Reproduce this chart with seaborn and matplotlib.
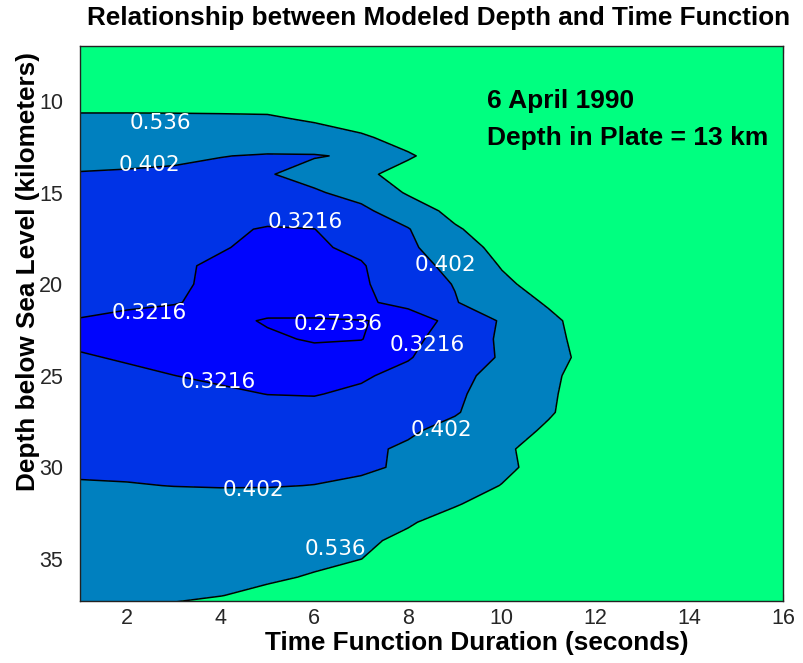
import numpy as np
import matplotlib
matplotlib.use("Agg")
import matplotlib.pyplot as plt
import seaborn as sns

# ---- data -------------------------------------------------------------
duration_s = list(range(1, 17))          # time function duration (s)
depth_km = list(range(7, 39))            # depth below sea level (km)
# modeled misfit (x1000), rows = depth, columns = duration
misfit_milli = [
    [816, 818, 820, 825, 831, 841, 870, 909, 947, 986, 1034, 1089, 1146, 1202, 1260, 1322],
    [736, 738, 740, 745, 751, 765, 800, 838, 877, 921, 976, 1032, 1089, 1147, 1210, 1276],
    [656, 658, 660, 665, 671, 691, 730, 768, 809, 862, 919, 976, 1035, 1098, 1166, 1236],
    [576, 578, 580, 586, 592, 621, 660, 698, 749, 806, 863, 922, 987, 1057, 1129, 1203],
    [515, 514, 514, 514, 516, 551, 589, 636, 693, 750, 810, 878, 951, 1025, 1102, 1179],
    [473, 469, 465, 458, 452, 470, 519, 580, 637, 699, 772, 849, 927, 1005, 1084, 1164],
    [431, 425, 418, 404, 396, 396, 415, 523, 598, 678, 758, 838, 918, 998, 1078, 1158],
    [397, 393, 388, 382, 395, 439, 511, 579, 637, 699, 772, 849, 927, 994, 1064, 1136],
    [382, 376, 369, 365, 372, 390, 440, 549, 617, 683, 750, 816, 885, 958, 1033, 1108],
    [370, 363, 353, 346, 342, 356, 378, 468, 572, 639, 706, 780, 855, 930, 1005, 1079],
    [361, 354, 343, 330, 318, 321, 351, 396, 522, 602, 678, 752, 826, 901, 975, 1050],
    [352, 345, 336, 324, 313, 314, 333, 380, 476, 574, 648, 722, 797, 872, 947, 1013],
    [347, 338, 327, 316, 307, 308, 317, 361, 431, 544, 619, 695, 769, 837, 902, 972],
    [340, 337, 328, 313, 300, 301, 314, 354, 406, 510, 591, 662, 725, 794, 867, 944],
    [330, 327, 324, 311, 293, 292, 309, 344, 396, 473, 549, 615, 691, 768, 846, 924],
    [320, 314, 305, 284, 270, 270, 272, 280, 346, 409, 511, 595, 675, 754, 834, 913],
    [314, 307, 297, 289, 279, 270, 272, 305, 352, 413, 504, 587, 667, 746, 826, 905],
    [325, 318, 309, 301, 292, 286, 296, 317, 361, 409, 496, 579, 659, 739, 819, 898],
    [335, 329, 322, 314, 306, 303, 314, 340, 376, 433, 513, 594, 673, 751, 827, 905],
    [345, 340, 334, 329, 321, 319, 332, 356, 387, 445, 520, 599, 679, 758, 838, 918],
    [356, 351, 347, 341, 339, 341, 354, 372, 395, 454, 525, 603, 683, 763, 843, 923],
    [368, 364, 360, 355, 354, 360, 373, 391, 428, 486, 553, 627, 700, 775, 852, 931],
    [380, 377, 373, 369, 368, 372, 387, 413, 461, 516, 584, 658, 732, 805, 879, 953],
    [392, 390, 387, 384, 383, 386, 392, 411, 463, 512, 578, 657, 737, 816, 896, 976],
    [407, 405, 401, 399, 399, 403, 414, 447, 487, 539, 605, 672, 746, 823, 902, 981],
    [426, 425, 424, 424, 428, 440, 459, 489, 527, 585, 651, 716, 782, 851, 924, 999],
    [445, 445, 445, 448, 455, 470, 492, 525, 580, 637, 696, 762, 828, 894, 960, 1030],
    [464, 466, 466, 470, 479, 492, 516, 560, 628, 693, 750, 808, 873, 939, 1005, 1071],
    [483, 486, 488, 491, 502, 516, 535, 601, 669, 738, 805, 863, 920, 984, 1050, 1116],
    [502, 505, 509, 514, 522, 544, 595, 646, 711, 779, 848, 916, 976, 1033, 1096, 1162],
    [520, 525, 528, 534, 559, 606, 657, 708, 759, 821, 889, 958, 1026, 1089, 1146, 1208],
    [540, 555, 550, 590, 636, 667, 718, 769, 820, 873, 933, 999, 1067, 1136, 1202, 1259],
]
contour_levels = [0.27336, 0.3216, 0.402, 0.536]
# contour labels: (level, duration, depth)
label_levels = [0.536, 0.402, 0.3216, 0.402, 0.3216, 0.27336, 0.3216, 0.3216, 0.402, 0.402, 0.536]
label_x = [2.71, 2.48, 5.80, 8.79, 2.47, 6.50, 8.41, 3.95, 8.72, 4.70, 6.44]
label_y = [11.2, 13.49, 16.62, 18.93, 21.57, 22.18, 23.34, 25.33, 27.97, 31.24, 34.46]
annotation_lines = ["6 April 1990", "Depth in Plate = 13 km"]

# ---- plot -------------------------------------------------------------
sns.set_style("ticks")
plt.rcParams["font.family"] = ["Liberation Sans", "DejaVu Sans"]
plt.rcParams["text.color"] = "black"
plt.rcParams["axes.labelcolor"] = "black"

X, Y = np.meshgrid(duration_s, depth_km)
Z = np.array(misfit_milli) / 1000.0

winter = matplotlib.colormaps["winter"]
fill_colors = [winter(0.0), winter(0.02), winter(0.2), winter(0.5), winter(1.0)]
fill_levels = [0.0] + contour_levels + [2.0]

fig = plt.figure(figsize=(8.04, 6.63), dpi=100)
ax = fig.add_axes([80 / 804, 62 / 663, 703 / 804, 555 / 663])

ax.contourf(X, Y, Z, levels=fill_levels, colors=fill_colors)
ax.contour(X, Y, Z, levels=contour_levels, colors="black", linewidths=1.1)

for lv, lx, ly in zip(label_levels, label_x, label_y):
    ax.text(lx, ly, f"{lv:g}", color="white", ha="center", va="center",
            fontsize=15.5, family="DejaVu Sans")

ax.text(9.69, 10.0, annotation_lines[0], ha="left", va="center",
        fontsize=19, fontweight="bold", color="black")
ax.text(9.69, 12.0, annotation_lines[1], ha="left", va="center",
        fontsize=19, fontweight="bold", color="black")

ax.set_xlim(1, 16)
ax.set_ylim(37.3, 7)
ax.set_xticks(range(2, 17, 2))
ax.set_yticks(range(10, 36, 5))
ax.tick_params(direction="in", length=5, width=0.8, top=True, right=True,
               labelsize=15.5, labelcolor="#262626")
ax.tick_params(axis="x", pad=5)
ax.tick_params(axis="y", pad=12)
for s in ax.spines.values():
    s.set_linewidth(1.0)
    s.set_color("#222222")

ax.set_xlabel("Time Function Duration (seconds)", fontsize=18.8, fontweight="bold",
              va="center")
ax.set_ylabel("Depth below Sea Level (kilometers)", fontsize=18.8, fontweight="bold",
              va="center")
ax.xaxis.set_label_coords(0.565, -0.0757)
ax.yaxis.set_label_coords(-0.074, 0.593)
fig.text(439 / 804, 1 - 18 / 663, "Relationship between Modeled Depth and Time Function",
         ha="center", va="center", fontsize=18.8, fontweight="bold", color="black")

fig.savefig("out.png", dpi=100)
